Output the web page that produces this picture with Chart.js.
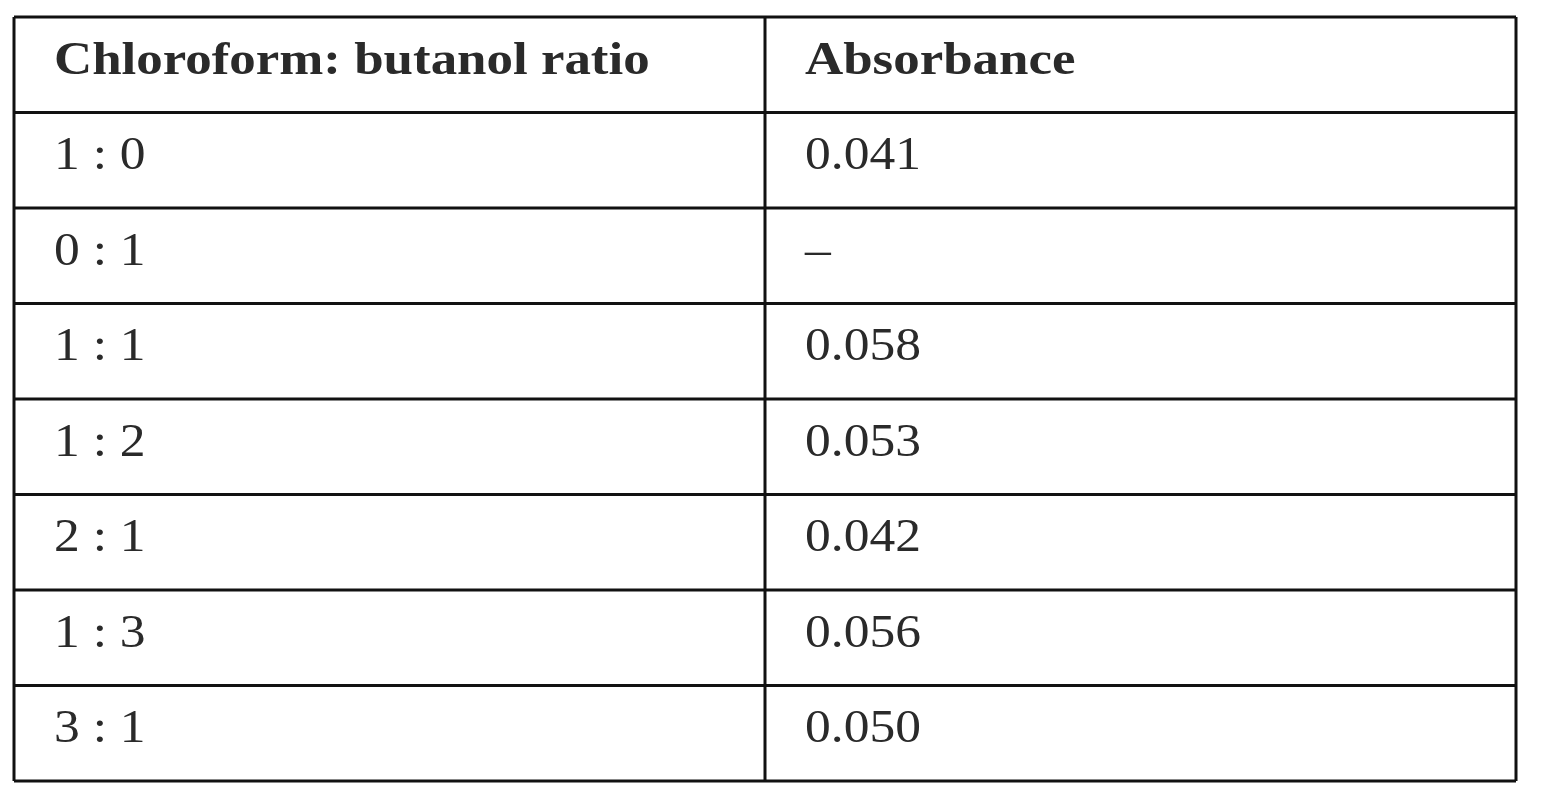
<!DOCTYPE html>
<html>
<head>
<meta charset="utf-8">
<script src="https://cdn.jsdelivr.net/npm/chart.js@4"></script>
<style>
  html, body { margin: 0; padding: 0; background: #fff; }
  #wrap { width: 1545px; height: 800px; }
</style>
</head>
<body>
<div id="wrap"><canvas id="tbl"></canvas></div>
<script>
// table content
const headers = ['Chloroform: butanol ratio', 'Absorbance'];
const ratios = ['1 : 0', '0 : 1', '1 : 1', '1 : 2', '2 : 1', '1 : 3', '3 : 1'];
const absorbance = ['0.041', '\u2013', '0.058', '0.053', '0.042', '0.056', '0.050'];

const nRows = ratios.length + 1;

// draws grid + text through the chart's own scales
const tablePlugin = {
    id: 'tablePlugin',
    afterDraw(chart) {
        const ctx = chart.ctx;
        const xs = chart.scales.x;
        const ys = chart.scales.y;
        ctx.save();
        ctx.strokeStyle = '#111';
        ctx.lineWidth = 3;
        // horizontal lines
        for (let r = 0; r <= nRows; r++) {
            const y = ys.getPixelForValue(r);
            ctx.beginPath();
            ctx.moveTo(xs.getPixelForValue(0), y);
            ctx.lineTo(xs.getPixelForValue(2), y);
            ctx.stroke();
        }
        // vertical lines
        for (let c = 0; c <= 2; c++) {
            const x = xs.getPixelForValue(c);
            ctx.beginPath();
            ctx.moveTo(x, ys.getPixelForValue(0));
            ctx.lineTo(x, ys.getPixelForValue(nRows));
            ctx.stroke();
        }

        ctx.fillStyle = '#2a2a2a';
        ctx.textBaseline = 'middle';
        ctx.textAlign = 'left';
        const pad = 40;
        const rowText = (r, cells, bold) => {
            const y = ys.getPixelForValue(r + 0.5) - 3;
            const sx = bold ? 1.15 : 1.12; // the scanned font runs wider
            ctx.font = (bold ? 'bold ' : '') + '46px "Liberation Serif", "DejaVu Serif", serif';
            cells.forEach((t, c) => {
                const x = xs.getPixelForValue(c) + pad;
                ctx.save();
                ctx.translate(x, y);
                ctx.scale(sx, 1);
                ctx.fillText(t, 0, 0);
                ctx.restore();
            });
        };
        rowText(0, headers, true);
        ratios.forEach((r, i) => rowText(i + 1, [r, absorbance[i]], false));
        ctx.restore();
    }
};

new Chart(document.getElementById('tbl'), {
    type: 'scatter',
    data: { datasets: [{ data: [], pointRadius: 0 }] },
    options: {
        responsive: true,
        maintainAspectRatio: false,
        animation: false,
        layout: { padding: { left: 14, right: 29, top: 17, bottom: 19 } },
        plugins: { legend: { display: false }, tooltip: { enabled: false } },
        scales: {
            x: { type: 'linear', min: 0, max: 2, display: false },
            y: { type: 'linear', min: 0, max: nRows, reverse: true, display: false }
        }
    },
    plugins: [tablePlugin]
});
</script>
</body>
</html>
